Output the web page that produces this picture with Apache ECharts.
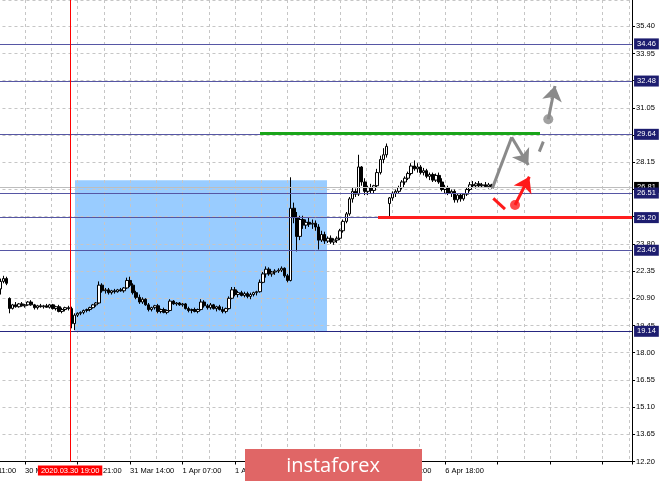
<!DOCTYPE html>
<html><head><meta charset="utf-8">
<script src="https://cdn.jsdelivr.net/npm/echarts@6/dist/echarts.min.js"></script>
<style>html,body{margin:0;padding:0;background:#fff;overflow:hidden}#c{width:665px;height:481px}</style>
</head><body><div id="c"></div>
<script>
// ---- data (hourly bars, index 0..159) ----
const opens = [21.40,21.80,21.95,20.89,20.36,20.55,20.45,20.60,20.50,20.55,20.70,20.55,20.40,20.50,20.45,20.50,20.42,20.55,20.35,20.45,
20.20,20.30,20.40,20.35,19.55,20.00,20.10,20.15,20.25,20.30,20.40,20.55,20.65,21.60,21.30,21.35,21.20,21.30,21.25,21.35,
21.30,21.45,21.85,21.60,21.20,20.95,20.70,20.85,20.55,20.30,20.40,20.50,20.20,20.30,20.15,20.25,20.75,20.60,20.65,20.55,
20.60,20.35,20.25,20.30,20.20,20.30,20.70,20.50,20.40,20.55,20.35,20.45,20.30,20.20,20.35,20.90,21.35,21.10,21.20,21.05,
21.15,21.00,21.10,21.20,21.25,21.75,22.20,22.45,22.20,22.30,22.35,22.40,22.50,22.10,21.85,25.70,25.20,24.20,25.10,24.80,
24.95,24.85,24.90,24.70,24.00,24.30,23.95,24.10,23.90,24.00,24.10,24.50,25.00,25.40,26.20,26.60,26.45,27.90,27.10,26.60,
26.80,26.65,26.90,27.60,28.30,28.55,25.95,26.25,26.50,26.60,26.80,27.10,27.30,27.55,27.95,27.80,27.90,27.60,27.70,27.40,
27.50,27.20,27.45,27.10,26.70,26.80,26.50,26.60,26.15,26.40,26.20,26.45,26.70,26.95,26.90,27.00,26.90,26.95,26.85,26.95];
const highs = [21.95,22.10,22.05,20.95,20.60,20.70,20.65,20.70,20.60,20.75,20.80,20.60,20.55,20.60,20.55,20.60,20.60,20.60,20.50,20.55,
20.40,20.45,20.50,20.45,20.10,20.15,20.20,20.30,20.35,20.45,20.60,20.70,21.80,21.70,21.45,21.45,21.35,21.40,21.40,21.45,
21.50,22.00,22.05,21.70,21.30,21.10,20.95,20.90,20.65,20.45,20.55,20.60,20.35,20.40,20.30,20.85,20.80,20.70,20.70,20.65,
20.65,20.45,20.35,20.40,20.35,20.85,20.80,20.60,20.65,20.60,20.50,20.55,20.45,20.40,21.00,21.50,21.50,21.30,21.30,21.25,
21.25,21.20,21.25,21.30,21.90,22.30,22.60,22.55,22.35,22.45,22.50,22.60,22.55,22.20,27.35,26.00,25.50,25.30,25.30,25.10,
25.20,25.10,25.05,24.85,24.50,24.45,24.20,24.25,24.10,24.20,24.60,25.10,25.50,26.30,26.80,26.75,28.55,27.95,27.30,26.90,
27.00,26.95,27.80,28.50,28.90,29.15,26.30,26.60,26.70,26.90,27.20,27.40,27.65,28.10,28.25,28.10,28.00,27.85,27.80,27.60,
27.60,27.55,27.60,27.30,26.95,26.90,26.70,26.70,26.50,26.50,26.50,26.80,27.10,27.15,27.10,27.15,27.05,27.10,27.05,27.00];
const lows = [21.10,21.70,21.60,20.10,20.30,20.40,20.40,20.45,20.40,20.50,20.50,20.30,20.30,20.40,20.35,20.40,20.35,20.30,20.25,20.15,
20.10,20.20,20.25,19.30,19.20,19.90,20.00,20.05,20.15,20.20,20.35,20.45,20.60,21.20,21.15,21.10,21.10,21.15,21.20,21.25,
21.20,21.40,21.50,21.10,20.85,20.60,20.60,20.50,20.20,20.20,20.30,20.10,20.10,20.10,20.05,20.20,20.55,20.50,20.50,20.45,
20.30,20.15,20.10,20.15,20.10,20.25,20.40,20.30,20.30,20.30,20.20,20.25,20.10,20.10,20.30,20.85,21.00,20.95,21.00,20.95,
20.90,20.85,21.00,21.05,21.20,21.70,22.00,22.10,22.05,22.15,22.25,22.30,22.00,21.75,21.80,24.90,23.40,24.00,24.60,24.60,
24.70,24.60,24.50,23.50,23.90,23.80,23.85,23.80,23.75,23.85,24.00,24.40,24.90,25.30,26.00,26.30,26.35,26.90,26.40,26.40,
26.50,26.50,26.80,27.50,28.10,28.40,25.20,26.10,26.30,26.50,26.70,26.95,27.20,27.45,27.70,27.60,27.50,27.45,27.30,27.20,
27.10,27.10,27.00,26.60,26.50,26.40,26.30,26.00,26.00,26.05,26.10,26.35,26.60,26.80,26.75,26.80,26.80,26.80,26.75,26.75];
const closes = [21.80,21.95,21.70,20.36,20.55,20.45,20.60,20.50,20.55,20.70,20.55,20.40,20.50,20.45,20.50,20.42,20.55,20.35,20.45,20.20,
20.30,20.40,20.35,19.55,20.00,20.10,20.15,20.25,20.30,20.40,20.55,20.65,21.60,21.30,21.35,21.20,21.30,21.25,21.35,21.30,
21.45,21.85,21.60,21.20,20.95,20.70,20.85,20.55,20.30,20.40,20.50,20.20,20.30,20.15,20.25,20.75,20.60,20.65,20.55,20.60,
20.35,20.25,20.30,20.20,20.30,20.70,20.50,20.40,20.55,20.35,20.45,20.30,20.20,20.35,20.90,21.35,21.10,21.20,21.05,21.15,
21.00,21.10,21.20,21.25,21.75,22.20,22.45,22.20,22.30,22.35,22.40,22.50,22.10,21.85,25.70,25.20,24.20,25.10,24.80,24.95,
24.85,24.90,24.70,24.00,24.30,23.95,24.10,23.90,24.00,24.10,24.50,25.00,25.40,26.20,26.60,26.45,27.90,27.10,26.60,26.80,
26.65,26.90,27.60,28.30,28.55,29.00,26.25,26.50,26.60,26.80,27.10,27.30,27.55,27.95,27.80,27.90,27.60,27.70,27.40,27.50,
27.20,27.45,27.10,26.70,26.80,26.50,26.60,26.15,26.40,26.20,26.45,26.70,26.95,26.90,27.00,26.90,26.95,26.85,26.95,26.81];

// time labels (bar index -> text)
const labelBars  = [-9, 8, 25, 42, 59, 76, 93, 110, 127, 144];
const labelTexts = ['27 Mar 11:00','30 Mar 04:00','30 Mar 21:00','31 Mar 14:00','1 Apr 07:00','1 Apr 24:00','2 Apr 17:00','3 Apr 10:00','6 Apr 01:00','6 Apr 18:00'];

// horizontal levels
const levelValues = [34.46, 32.48, 29.64, 26.51, 25.20, 23.46, 19.14];
const currentPrice = 26.81;
const markerBar = 22.6;            // 2020.03.30 19:00 vertical line (bar index)
const markerText = '2020.03.30 19:00';
// highlighted zone (bar range, price range)
const zoneBars = [24.18, 105.75];
const zonePrices = [27.19, 19.13];
// resistance (green) and support (red) segments: [barFrom, barTo, price]
const greenSeg = [84.07, 174.7, 29.70];
const redSeg = [122.26, 204.5, 25.20];
// forecast arrows [bar, price]
const grayRise = [[159.26, 26.76], [165.54, 29.48]];
const grayFall = [[165.54, 29.48], [170.91, 28.01]];
const grayDash = [[174.47, 28.72], [175.77, 29.25]];
const grayDot = [177.38, 30.44];
const grayUp = [[177.38, 30.44], [179.55, 32.22]];
const redDash = [[159.58, 26.23], [163.37, 25.65]];
const redDot = [166.61, 25.87];
const redUp = [[166.61, 25.87], [171.24, 27.38]];

const FONT = 'Liberation Sans';
const FS = 7.5;
const u = b => b + 0.5;           // bar index -> x-axis value (bar centre)
const P = p => [u(p[0]), p[1]];

const candles = opens.map((o, i) => [u(i), o, closes[i], lows[i], highs[i]]);

const chart = echarts.init(document.getElementById('c'), null, {renderer: 'canvas'});

const boxLabel = (text, bg) => ({show: true, position: 'end', distance: 2, formatter: text, color: '#fff',
  backgroundColor: bg, padding: [2, 3, 1, 3], fontSize: FS, fontFamily: FONT, lineHeight: 8});

const levelLine = (v) => ({
  yAxis: v,
  lineStyle: {color: v === 19.14 ? '#262680' : '#5656a4', width: 1, type: 'solid'},
  label: boxLabel(v.toFixed(2), '#1d1d6f')
});

const segSeries = (segs, color, arrow) => ({
  type: 'lines', coordinateSystem: 'cartesian2d', silent: true, z: 6,
  symbol: ['none', arrow ? 'arrow' : 'none'], symbolSize: 15,
  lineStyle: {color: color, width: 3, opacity: 1, curveness: 0},
  data: segs.map(s => ({coords: s.map(P)}))
});

const option = {
  animation: false,
  backgroundColor: '#fff',
  grid: {left: -27.52, right: 32.93, top: 0, bottom: 19.5, containLabel: false, outerBoundsMode: 'none'},
  xAxis: [{
    type: 'value', min: -8.5, max: 205, interval: 8.5, position: 'bottom',
    axisLine: {show: true, onZero: false, lineStyle: {color: '#000', width: 1}},
    axisTick: {show: false}, axisLabel: {show: false},
    splitLine: {show: true, lineStyle: {color: '#c6c6c6', type: [3, 3], width: 1}}
  }, {
    type: 'value', min: -8.5, max: 205, interval: 17, position: 'bottom',
    axisLine: {show: false, onZero: false},
    axisTick: {show: true, length: 3, lineStyle: {color: '#000'}},
    axisLabel: {show: true, align: 'left', margin: 5, fontSize: FS, fontFamily: FONT, color: '#000',
      formatter: (v) => {
        const k = labelBars.findIndex(b => Math.abs(u(b) - v) < 0.01);
        return k >= 0 ? labelTexts[k] : '';
      }},
    splitLine: {show: false}
  }],
  yAxis: {
    type: 'value', position: 'right', min: 12.20, max: 36.80, interval: 1.45,
    axisLine: {show: true, onZero: false, lineStyle: {color: '#000', width: 1}},
    axisTick: {show: true, length: 3, lineStyle: {color: '#000'}},
    axisLabel: {margin: 4, fontSize: FS, fontFamily: FONT, color: '#000', showMaxLabel: false,
      formatter: (v) => v > 36 ? '' : v.toFixed(2)},
    splitLine: {show: true, lineStyle: {color: '#c6c6c6', type: [3, 3], width: 1}}
  },
  series: [
    {
      type: 'line', data: [], silent: true,
      markArea: {silent: true, z: -1, itemStyle: {color: '#99ccff', opacity: 1},
        data: [[{coord: [u(zoneBars[0]), zonePrices[0]]}, {coord: [u(zoneBars[1]), zonePrices[1]]}]]}
    },
    {
      type: 'candlestick', data: candles, barWidth: 3, silent: true,
      itemStyle: {color: '#fff', color0: '#000', borderColor: '#000', borderColor0: '#000', borderWidth: 1},
      markLine: {
        silent: true, symbol: ['none', 'none'], precision: 2, animation: false,
        data: [
          {yAxis: currentPrice, lineStyle: {color: '#bdbdbd', width: 1, type: 'solid'},
           label: boxLabel(currentPrice.toFixed(2), '#000')},
          ...levelValues.map(levelLine),
          {xAxis: u(markerBar), lineStyle: {color: '#ff0000', width: 1, type: 'solid'},
           label: {show: true, position: 'start', distance: 4, formatter: markerText, color: '#fff',
                   backgroundColor: '#ff0000', padding: [1, 3, 1, 3], fontSize: FS, fontFamily: FONT, lineHeight: 8}},
          [{coord: [u(greenSeg[0]), greenSeg[2]], lineStyle: {color: '#1aa51a', width: 3, type: 'solid'}, label: {show: false}},
           {coord: [u(greenSeg[1]), greenSeg[2]]}],
          [{coord: [u(redSeg[0]), redSeg[2]], lineStyle: {color: '#ff1e1e', width: 3, type: 'solid'}, label: {show: false}},
           {coord: [u(redSeg[1]), redSeg[2]]}]
        ]
      }
    },
    segSeries([grayRise, grayDash], '#8a8a8a', false),
    segSeries([grayFall, grayUp], '#8a8a8a', true),
    segSeries([redDash], '#ff1a1a', false),
    segSeries([redUp], '#ff1a1a', true),
    {
      type: 'scatter', silent: true, z: 7, symbolSize: 10,
      data: [{value: P(grayDot), itemStyle: {color: '#8a8a8a'}}, {value: P(redDot), itemStyle: {color: '#ff1a1a'}}]
    }
  ],
  graphic: [
    {type: 'rect', z: 100, shape: {x: 245, y: 449, width: 177, height: 32}, style: {fill: '#e06666'}},
    {type: 'text', z: 101, style: {x: 333, y: 466, text: 'instaforex', fill: '#fff', font: '20px "Open Sans"', textAlign: 'center', textVerticalAlign: 'middle'}}
  ]
};
chart.setOption(option);
</script></body></html>
